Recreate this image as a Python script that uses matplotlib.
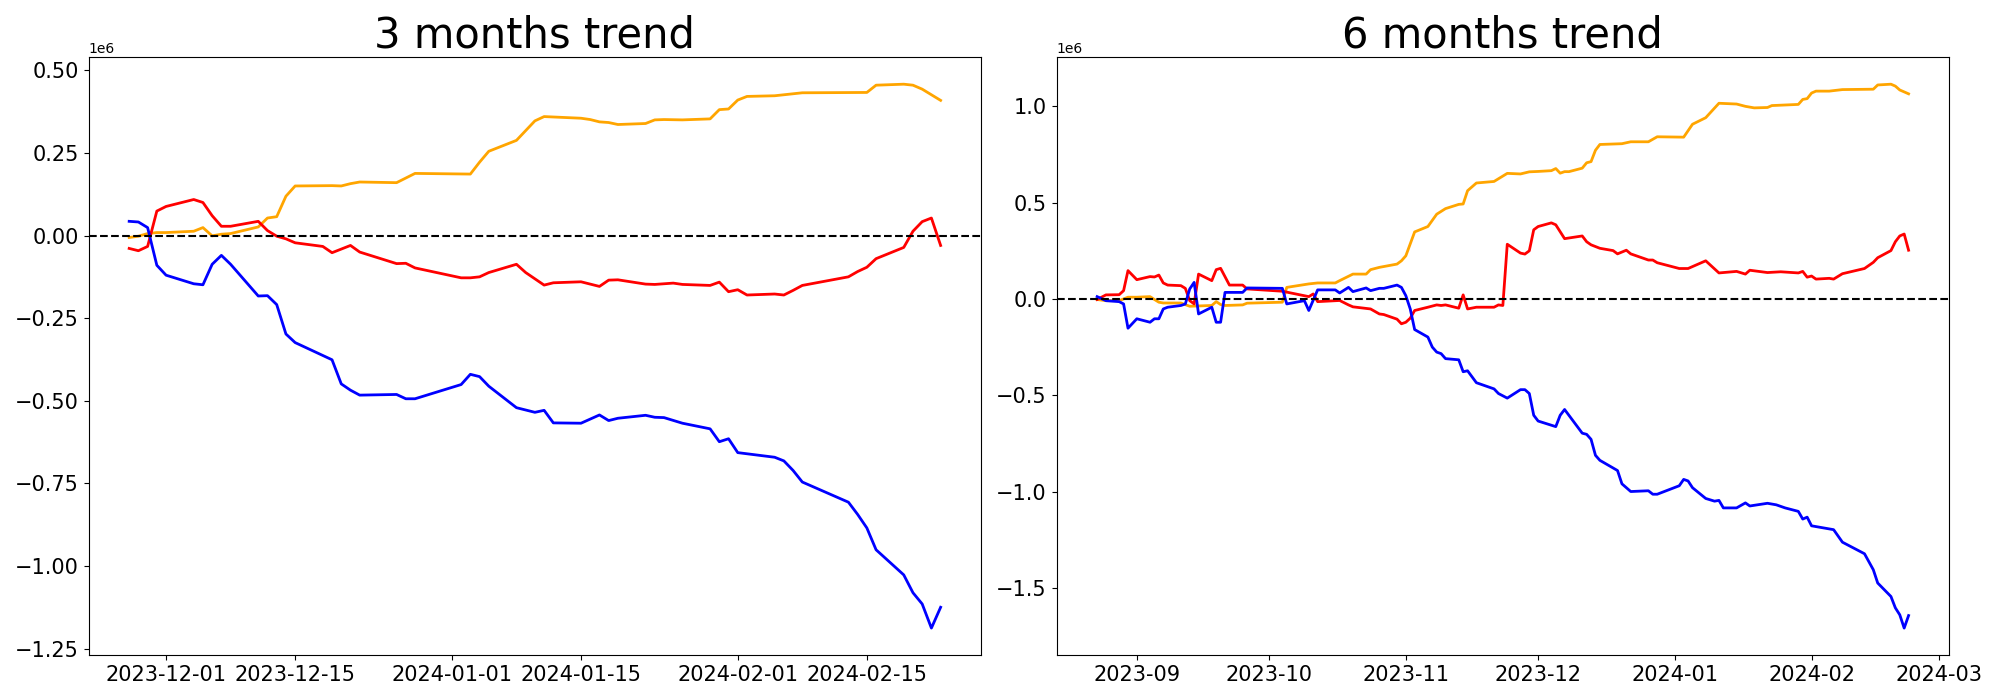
import matplotlib
matplotlib.use("Agg")
import matplotlib.pyplot as plt
import pandas as pd

# ---- 3 months panel (values in units of 1e6) ----
q_blue_dates = ["2023-11-27", "2023-11-28", "2023-11-29", "2023-11-30", "2023-12-01", "2023-12-04",
                "2023-12-05", "2023-12-06", "2023-12-07", "2023-12-08", "2023-12-11", "2023-12-12",
                "2023-12-13", "2023-12-14", "2023-12-15", "2023-12-19", "2023-12-20", "2023-12-21",
                "2023-12-22", "2023-12-26", "2023-12-27", "2023-12-28", "2024-01-02", "2024-01-03",
                "2024-01-04", "2024-01-05", "2024-01-08", "2024-01-10", "2024-01-11", "2024-01-12",
                "2024-01-15", "2024-01-17", "2024-01-18", "2024-01-19", "2024-01-22", "2024-01-23",
                "2024-01-24", "2024-01-26", "2024-01-29", "2024-01-30", "2024-01-31", "2024-02-01",
                "2024-02-05", "2024-02-06", "2024-02-07", "2024-02-08", "2024-02-13", "2024-02-14",
                "2024-02-15", "2024-02-16", "2024-02-19", "2024-02-20", "2024-02-21", "2024-02-22",
                "2024-02-23"]
q_blue = [0.043, 0.041, 0.024, -0.090, -0.120, -0.146, -0.149, -0.087, -0.060, -0.087, -0.183, -0.182,
          -0.209, -0.298, -0.324, -0.376, -0.449, -0.468, -0.483, -0.481, -0.494, -0.494, -0.451, -0.420,
          -0.427, -0.456, -0.521, -0.535, -0.529, -0.567, -0.568, -0.543, -0.560, -0.553, -0.544, -0.550,
          -0.551, -0.568, -0.585, -0.624, -0.615, -0.657, -0.671, -0.682, -0.711, -0.746, -0.807, -0.844,
          -0.885, -0.951, -1.027, -1.081, -1.115, -1.188, -1.125]

q_red_dates = ["2023-11-27", "2023-11-28", "2023-11-29", "2023-11-30", "2023-12-01", "2023-12-04",
               "2023-12-05", "2023-12-06", "2023-12-07", "2023-12-08", "2023-12-11", "2023-12-12",
               "2023-12-13", "2023-12-14", "2023-12-15", "2023-12-18", "2023-12-19", "2023-12-20",
               "2023-12-21", "2023-12-22", "2023-12-26", "2023-12-27", "2023-12-28", "2024-01-02",
               "2024-01-03", "2024-01-04", "2024-01-05", "2024-01-08", "2024-01-09", "2024-01-11",
               "2024-01-12", "2024-01-15", "2024-01-17", "2024-01-18", "2024-01-19", "2024-01-22",
               "2024-01-23", "2024-01-25", "2024-01-26", "2024-01-29", "2024-01-30", "2024-01-31",
               "2024-02-01", "2024-02-02", "2024-02-05", "2024-02-06", "2024-02-07", "2024-02-08",
               "2024-02-13", "2024-02-14", "2024-02-15", "2024-02-16", "2024-02-19", "2024-02-20",
               "2024-02-21", "2024-02-22", "2024-02-23"]
q_red = [-0.039, -0.046, -0.033, 0.074, 0.088, 0.109, 0.100, 0.060, 0.028, 0.028, 0.043, 0.015,
         -0.002, -0.010, -0.022, -0.033, -0.052, -0.041, -0.030, -0.050, -0.085, -0.084, -0.098, -0.128,
         -0.128, -0.125, -0.112, -0.087, -0.112, -0.150, -0.143, -0.140, -0.154, -0.135, -0.134, -0.147,
         -0.148, -0.144, -0.148, -0.151, -0.141, -0.170, -0.164, -0.180, -0.177, -0.180, -0.166, -0.151,
         -0.125, -0.109, -0.096, -0.070, -0.036, 0.013, 0.042, 0.053, -0.030]

q_orange_dates = ["2023-11-27", "2023-11-28", "2023-11-29", "2023-11-30", "2023-12-01", "2023-12-04",
                  "2023-12-05", "2023-12-06", "2023-12-07", "2023-12-08", "2023-12-11", "2023-12-12",
                  "2023-12-13", "2023-12-14", "2023-12-15", "2023-12-19", "2023-12-20", "2023-12-21",
                  "2023-12-22", "2023-12-26", "2023-12-28", "2024-01-03", "2024-01-04", "2024-01-05",
                  "2024-01-08", "2024-01-10", "2024-01-11", "2024-01-15", "2024-01-16", "2024-01-17",
                  "2024-01-18", "2024-01-19", "2024-01-22", "2024-01-23", "2024-01-24", "2024-01-26",
                  "2024-01-29", "2024-01-30", "2024-01-31", "2024-02-01", "2024-02-02", "2024-02-05",
                  "2024-02-08", "2024-02-15", "2024-02-16", "2024-02-19", "2024-02-20", "2024-02-21",
                  "2024-02-22", "2024-02-23"]
q_orange = [-0.006, -0.002, 0.006, 0.009, 0.009, 0.013, 0.024, -0.001, 0.004, 0.006, 0.026, 0.053,
            0.057, 0.119, 0.150, 0.151, 0.150, 0.157, 0.162, 0.160, 0.188, 0.186, 0.222, 0.255,
            0.288, 0.347, 0.360, 0.355, 0.351, 0.344, 0.342, 0.336, 0.339, 0.350, 0.351, 0.350,
            0.353, 0.381, 0.383, 0.410, 0.421, 0.423, 0.432, 0.433, 0.455, 0.458, 0.455, 0.443,
            0.426, 0.409]

# ---- 6 months panel (values in units of 1e6) ----
h_blue_dates = ["2023-08-23", "2023-08-25", "2023-08-28", "2023-08-29", "2023-08-30", "2023-09-01",
                "2023-09-04", "2023-09-05", "2023-09-06", "2023-09-07", "2023-09-08", "2023-09-11",
                "2023-09-12", "2023-09-13", "2023-09-14", "2023-09-15", "2023-09-18", "2023-09-19",
                "2023-09-20", "2023-09-21", "2023-09-25", "2023-09-26", "2023-10-04", "2023-10-05",
                "2023-10-09", "2023-10-10", "2023-10-12", "2023-10-16", "2023-10-17", "2023-10-19",
                "2023-10-20", "2023-10-23", "2023-10-24", "2023-10-26", "2023-10-27", "2023-10-30",
                "2023-10-31", "2023-11-01", "2023-11-02", "2023-11-03", "2023-11-06", "2023-11-07",
                "2023-11-08", "2023-11-09", "2023-11-10", "2023-11-13", "2023-11-14", "2023-11-15",
                "2023-11-17", "2023-11-21", "2023-11-22", "2023-11-24", "2023-11-27", "2023-11-28",
                "2023-11-29", "2023-11-30", "2023-12-01", "2023-12-05", "2023-12-06", "2023-12-07",
                "2023-12-11", "2023-12-12", "2023-12-13", "2023-12-14", "2023-12-15", "2023-12-19",
                "2023-12-20", "2023-12-22", "2023-12-26", "2023-12-27", "2023-12-28", "2024-01-02",
                "2024-01-03", "2024-01-04", "2024-01-05", "2024-01-08", "2024-01-10", "2024-01-11",
                "2024-01-12", "2024-01-15", "2024-01-17", "2024-01-18", "2024-01-22", "2024-01-24",
                "2024-01-26", "2024-01-29", "2024-01-30", "2024-01-31", "2024-02-01", "2024-02-06",
                "2024-02-08", "2024-02-13", "2024-02-15", "2024-02-16", "2024-02-19", "2024-02-20",
                "2024-02-21", "2024-02-22", "2024-02-23"]
h_blue = [0.012, -0.009, -0.014, -0.026, -0.152, -0.103, -0.121, -0.103, -0.103, -0.052, -0.043, -0.034,
          -0.026, 0.052, 0.086, -0.078, -0.043, -0.121, -0.121, 0.034, 0.034, 0.057, 0.055, -0.026,
          -0.009, -0.060, 0.047, 0.047, 0.031, 0.060, 0.038, 0.057, 0.043, 0.055, 0.055, 0.072,
          0.060, 0.017, -0.052, -0.159, -0.198, -0.250, -0.276, -0.284, -0.310, -0.316, -0.378, -0.373,
          -0.435, -0.467, -0.491, -0.515, -0.471, -0.471, -0.491, -0.604, -0.634, -0.663, -0.604, -0.574,
          -0.697, -0.703, -0.729, -0.812, -0.838, -0.891, -0.960, -1.000, -0.996, -1.014, -1.014, -0.970,
          -0.937, -0.945, -0.980, -1.036, -1.050, -1.046, -1.085, -1.085, -1.059, -1.075, -1.061, -1.069,
          -1.085, -1.103, -1.143, -1.133, -1.178, -1.198, -1.263, -1.323, -1.406, -1.475, -1.545, -1.604,
          -1.640, -1.709, -1.644]

h_red_dates = ["2023-08-23", "2023-08-25", "2023-08-28", "2023-08-29", "2023-08-30", "2023-09-01",
               "2023-09-04", "2023-09-05", "2023-09-06", "2023-09-07", "2023-09-08", "2023-09-11",
               "2023-09-12", "2023-09-13", "2023-09-14", "2023-09-15", "2023-09-18", "2023-09-19",
               "2023-09-20", "2023-09-22", "2023-09-25", "2023-09-26", "2023-10-04", "2023-10-10",
               "2023-10-11", "2023-10-12", "2023-10-17", "2023-10-19", "2023-10-20", "2023-10-24",
               "2023-10-26", "2023-10-27", "2023-10-30", "2023-10-31", "2023-11-01", "2023-11-02",
               "2023-11-03", "2023-11-06", "2023-11-08", "2023-11-09", "2023-11-10", "2023-11-13",
               "2023-11-14", "2023-11-15", "2023-11-17", "2023-11-21", "2023-11-22", "2023-11-23",
               "2023-11-24", "2023-11-27", "2023-11-28", "2023-11-29", "2023-11-30", "2023-12-01",
               "2023-12-04", "2023-12-05", "2023-12-07", "2023-12-11", "2023-12-12", "2023-12-13",
               "2023-12-15", "2023-12-18", "2023-12-19", "2023-12-21", "2023-12-22", "2023-12-26",
               "2023-12-27", "2023-12-28", "2024-01-02", "2024-01-04", "2024-01-08", "2024-01-11",
               "2024-01-15", "2024-01-17", "2024-01-18", "2024-01-22", "2024-01-25", "2024-01-29",
               "2024-01-30", "2024-01-31", "2024-02-01", "2024-02-02", "2024-02-05", "2024-02-06",
               "2024-02-08", "2024-02-13", "2024-02-15", "2024-02-16", "2024-02-19", "2024-02-20",
               "2024-02-21", "2024-02-22", "2024-02-23"]
h_red = [-0.003, 0.021, 0.022, 0.043, 0.147, 0.100, 0.116, 0.114, 0.124, 0.083, 0.072, 0.069,
         0.055, -0.009, -0.026, 0.129, 0.095, 0.152, 0.159, 0.072, 0.072, 0.052, 0.040, 0.012,
         0.026, -0.014, -0.008, -0.031, -0.041, -0.052, -0.078, -0.081, -0.105, -0.129, -0.121, -0.100,
         -0.060, -0.043, -0.031, -0.034, -0.031, -0.048, 0.021, -0.052, -0.043, -0.043, -0.031, -0.034,
         0.284, 0.238, 0.233, 0.250, 0.359, 0.376, 0.395, 0.385, 0.313, 0.327, 0.297, 0.281,
         0.263, 0.251, 0.234, 0.253, 0.234, 0.202, 0.202, 0.188, 0.158, 0.158, 0.198, 0.135,
         0.143, 0.129, 0.149, 0.137, 0.141, 0.135, 0.143, 0.113, 0.119, 0.103, 0.107, 0.103,
         0.131, 0.158, 0.190, 0.214, 0.251, 0.297, 0.327, 0.337, 0.253]

h_orange_dates = ["2023-08-23", "2023-08-25", "2023-08-28", "2023-08-30", "2023-09-01", "2023-09-04",
                  "2023-09-05", "2023-09-06", "2023-09-07", "2023-09-11", "2023-09-13", "2023-09-18",
                  "2023-09-19", "2023-09-20", "2023-09-21", "2023-09-25", "2023-09-26", "2023-10-04",
                  "2023-10-05", "2023-10-10", "2023-10-12", "2023-10-16", "2023-10-17", "2023-10-20",
                  "2023-10-23", "2023-10-24", "2023-10-26", "2023-10-30", "2023-10-31", "2023-11-01",
                  "2023-11-03", "2023-11-06", "2023-11-08", "2023-11-10", "2023-11-13", "2023-11-14",
                  "2023-11-15", "2023-11-17", "2023-11-21", "2023-11-23", "2023-11-24", "2023-11-27",
                  "2023-11-29", "2023-12-01", "2023-12-04", "2023-12-05", "2023-12-06", "2023-12-07",
                  "2023-12-08", "2023-12-11", "2023-12-12", "2023-12-13", "2023-12-14", "2023-12-15",
                  "2023-12-20", "2023-12-22", "2023-12-26", "2023-12-28", "2024-01-03", "2024-01-05",
                  "2024-01-08", "2024-01-11", "2024-01-15", "2024-01-17", "2024-01-19", "2024-01-22",
                  "2024-01-23", "2024-01-29", "2024-01-30", "2024-01-31", "2024-02-01", "2024-02-02",
                  "2024-02-05", "2024-02-08", "2024-02-15", "2024-02-16", "2024-02-19", "2024-02-20",
                  "2024-02-21", "2024-02-23"]
h_orange = [-0.003, -0.009, -0.009, 0.009, 0.009, 0.012, -0.003, -0.017, -0.021, -0.021, -0.038, -0.034,
            -0.014, -0.029, -0.034, -0.031, -0.022, -0.017, 0.060, 0.078, 0.083, 0.083, 0.095, 0.129,
            0.129, 0.152, 0.164, 0.181, 0.198, 0.224, 0.348, 0.376, 0.440, 0.469, 0.491, 0.493,
            0.562, 0.602, 0.610, 0.638, 0.652, 0.649, 0.660, 0.662, 0.666, 0.677, 0.653, 0.661,
            0.661, 0.679, 0.707, 0.713, 0.772, 0.802, 0.806, 0.816, 0.816, 0.842, 0.840, 0.907,
            0.941, 1.016, 1.012, 1.000, 0.992, 0.994, 1.004, 1.010, 1.036, 1.040, 1.069, 1.079,
            1.079, 1.087, 1.089, 1.111, 1.115, 1.105, 1.085, 1.065]

panels = [
    ("3 months trend", [(q_orange_dates, q_orange, "orange"), (q_red_dates, q_red, "red"),
                        (q_blue_dates, q_blue, "blue")]),
    ("6 months trend", [(h_orange_dates, h_orange, "orange"), (h_red_dates, h_red, "red"),
                        (h_blue_dates, h_blue, "blue")]),
]

fig, axes = plt.subplots(1, 2, figsize=(20, 7), dpi=100)
for ax, (title, series) in zip(axes, panels):
    for dates, vals, color in series:
        ax.plot(pd.to_datetime(dates), [v * 1e6 for v in vals], color=color, lw=2)
    ax.axhline(0, color="black", ls="--", lw=1.5)
    ax.set_title(title, fontsize=30)
    ax.tick_params(labelsize=15)

fig.tight_layout()
fig.savefig("out.png", dpi=100)
